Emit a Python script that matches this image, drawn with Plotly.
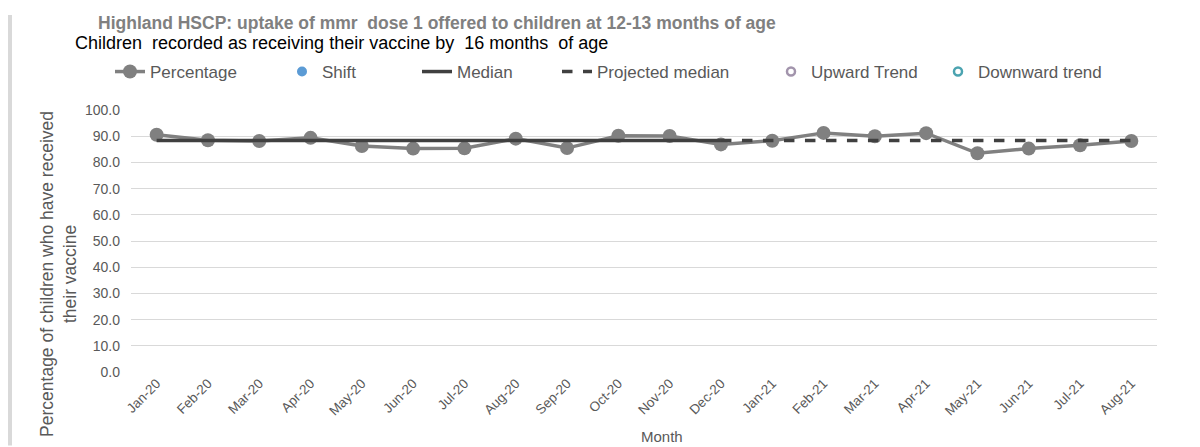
import plotly.graph_objects as go

months = ["Jan-20", "Feb-20", "Mar-20", "Apr-20", "May-20", "Jun-20", "Jul-20", "Aug-20",
          "Sep-20", "Oct-20", "Nov-20", "Dec-20", "Jan-21", "Feb-21", "Mar-21", "Apr-21",
          "May-21", "Jun-21", "Jul-21", "Aug-21"]
percentage = [90.6, 88.5, 88.2, 89.4, 86.3, 85.3, 85.4, 89.1, 85.5, 90.2, 90.1, 86.9,
              88.3, 91.3, 90.0, 91.2, 83.5, 85.3, 86.6, 88.2]
median_value = 88.4
median = [median_value] * 12 + [None] * 8
projected_median = [None] * 11 + [median_value] * 9
shift = [None] * 20
upward_trend = [None] * 20
downward_trend = [None] * 20

W, H = 1200, 447
L, R, T, B = 131, 43, 105, 75
PW = W - L - R
PH = H - T - B

def px(x):
    return (x - L) / PW

def py(y):
    return (H - B - y) / PH

FONT = "Liberation Sans, Arial, sans-serif"
TXT = "#595959"

fig = go.Figure()
fig.add_trace(go.Scatter(x=months, y=percentage, name="Percentage", mode="lines+markers",
                         line=dict(color="#808080", width=3.5),
                         marker=dict(color="#808080", size=14), legend="legend"))
fig.add_trace(go.Scatter(x=months, y=shift, name="Shift", mode="markers",
                         marker=dict(color="#5B9BD5", size=10), legend="legend2"))
fig.add_trace(go.Scatter(x=months, y=median, name="Median", mode="lines",
                         line=dict(color="#404040", width=3.5), legend="legend3"))
fig.add_trace(go.Scatter(x=months, y=projected_median, name="Projected median", mode="lines",
                         line=dict(color="#404040", width=3.5, dash="dash"), legend="legend4"))
fig.add_trace(go.Scatter(x=months, y=upward_trend, name="Upward Trend", mode="markers",
                         marker=dict(color="white", size=8, line=dict(color="#A294AC", width=2.5)),
                         legend="legend5"))
fig.add_trace(go.Scatter(x=months, y=downward_trend, name="Downward trend", mode="markers",
                         marker=dict(color="white", size=8, line=dict(color="#4BA3B0", width=2.5)),
                         legend="legend6"))

legend_x = [110, 282, 417, 557, 771, 938]
legend_y = 1 - 72 / H
common = dict(orientation="h", xref="container", yref="container", xanchor="left",
              yanchor="middle", y=legend_y, bgcolor="rgba(0,0,0,0)",
              font=dict(family=FONT, size=17, color=TXT), itemwidth=30,
              itemclick=False, itemdoubleclick=False)
legends = {}
for i, lx in enumerate(legend_x):
    key = "legend" if i == 0 else f"legend{i+1}"
    legends[key] = dict(common, x=lx / W)

fig.update_layout(
    width=W, height=H,
    margin=dict(l=L, r=R, t=T, b=B),
    paper_bgcolor="white", plot_bgcolor="white",
    font=dict(family=FONT, color=TXT),
    showlegend=True,
    xaxis=dict(type="category", range=[-0.5, 19.5], tickangle=-45, showgrid=False,
               zeroline=False, showline=False, ticks="",
               tickfont=dict(family=FONT, size=13.5, color=TXT), fixedrange=True),
    yaxis=dict(range=[0, 100], dtick=10, tickformat=".1f", showgrid=True,
               gridcolor="#D9D9D9", gridwidth=1, zeroline=False, showline=False,
               ticks="", ticklabelstandoff=10,
               tickfont=dict(family=FONT, size=14, color=TXT), fixedrange=True),
    **legends,
)

fig.add_annotation(text="<b>Highland HSCP: uptake of mmr  dose 1 offered to children at 12-13 months of age</b>",
                   xref="paper", yref="paper", x=px(96), y=py(16), xanchor="left", yanchor="middle",
                   showarrow=False, font=dict(family=FONT, size=17.5, color="#808080"))
fig.add_annotation(text="Children  recorded as receiving their vaccine by  16 months  of age",
                   xref="paper", yref="paper", x=px(73), y=py(37), xanchor="left", yanchor="middle",
                   showarrow=False, font=dict(family=FONT, size=18, color="black"))
fig.add_annotation(text="Percentage of children who have received<br>their vaccine",
                   xref="paper", yref="paper", x=px(59), y=py(272), xanchor="center", yanchor="middle",
                   textangle=-90, showarrow=False, font=dict(family=FONT, size=17.5, color=TXT))
fig.add_annotation(text="Month", xref="paper", yref="paper", x=px(662), y=py(438),
                   xanchor="center", yanchor="middle", showarrow=False,
                   font=dict(family=FONT, size=15, color=TXT))
fig.add_shape(type="rect", xref="paper", yref="paper", x0=px(8), x1=px(12), y0=py(8), y1=py(447),
              fillcolor="#D9D9D9", line=dict(width=0), layer="below")

fig.write_html("out.html", config={"displayModeBar": False})
